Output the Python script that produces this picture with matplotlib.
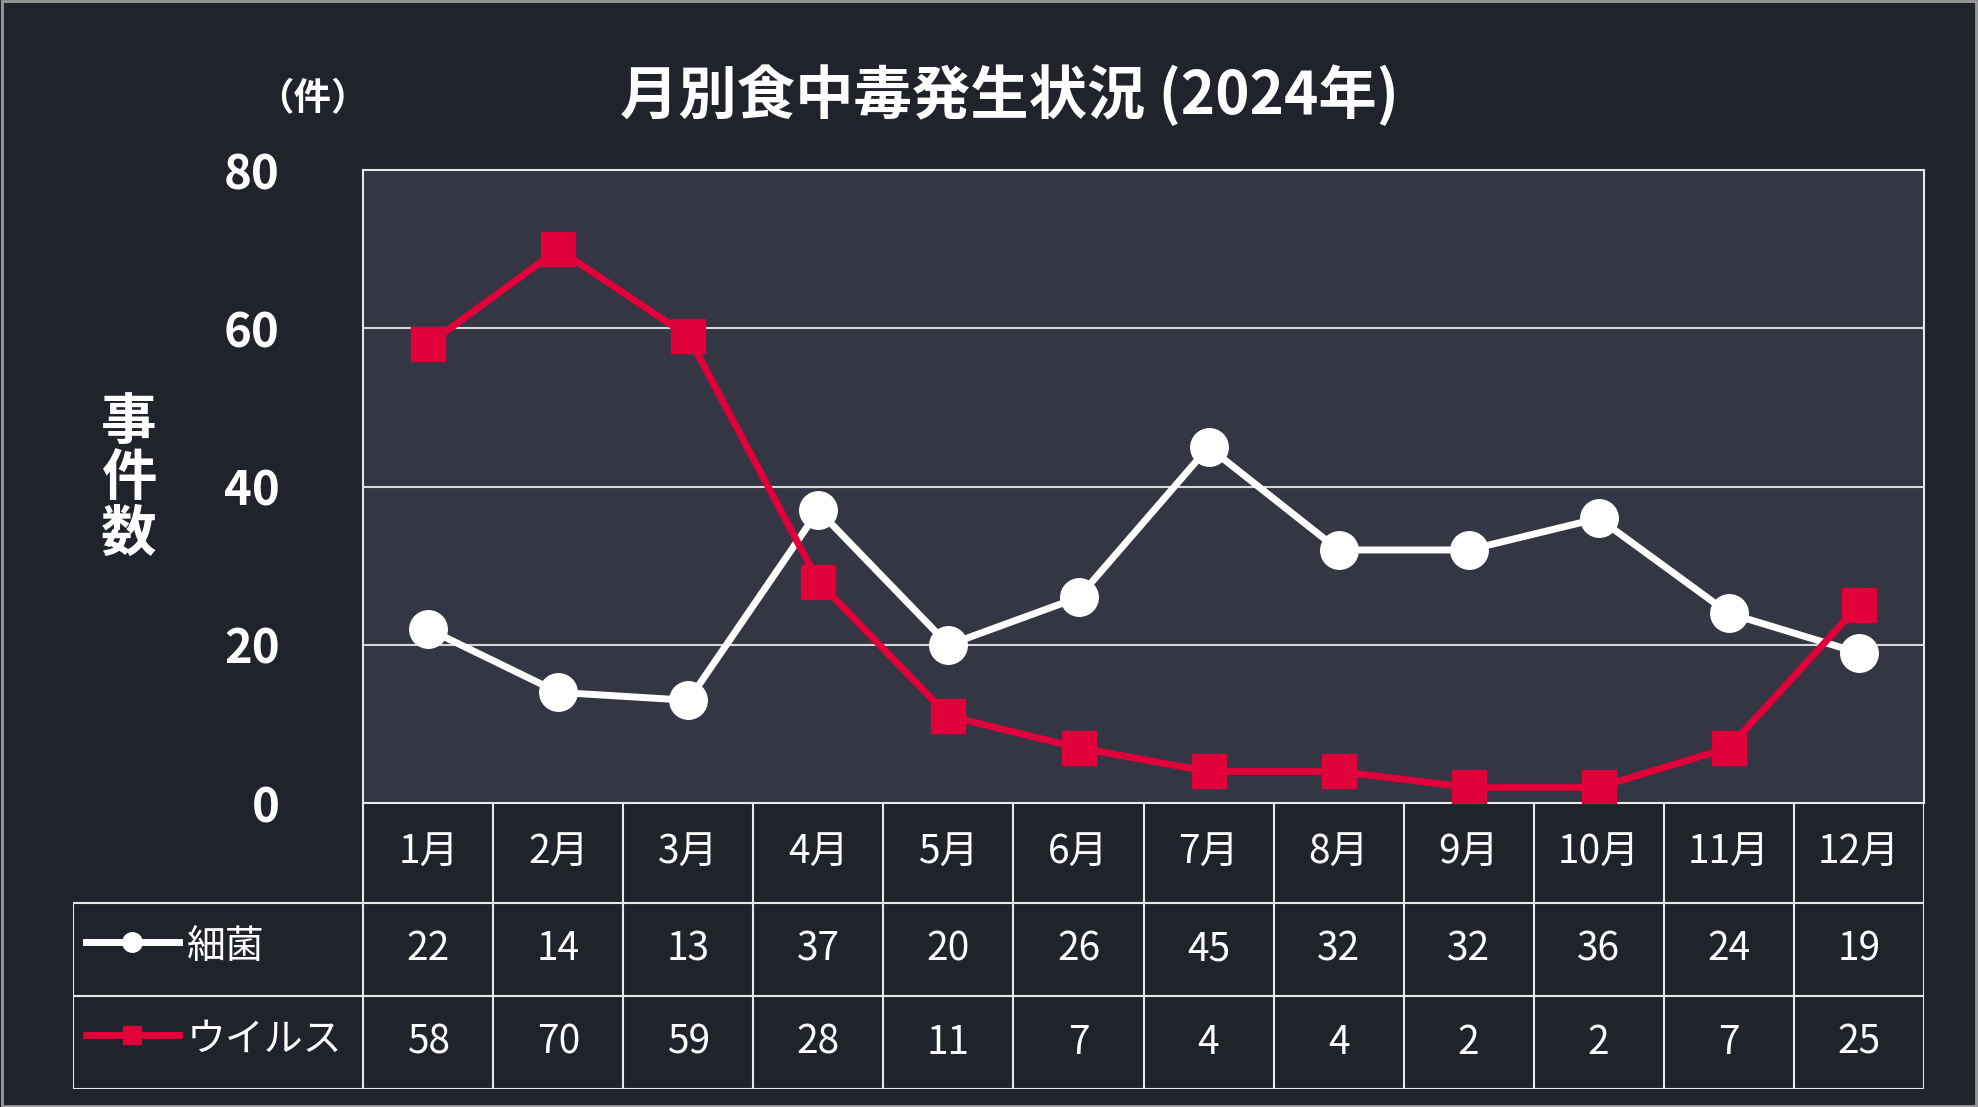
import matplotlib
matplotlib.use("Agg")
import matplotlib.pyplot as plt
from matplotlib.lines import Line2D

months = ["1月","2月","3月","4月","5月","6月","7月","8月","9月","10月","11月","12月"]
bacteria = [22,14,13,37,20,26,45,32,32,36,24,19]
virus = [58,70,59,28,11,7,4,4,2,2,7,25]
series_names = ["細菌","ウイルス"]
yticks = [0,20,40,60,80]

FONT = "Noto Sans CJK JP"
BG = "#20232c"; PLOT_BG = "#343643"; RED = "#e0003a"; WHITE = "white"
W, H = 1568, 878
fig = plt.figure(figsize=(19.78, 11.07), dpi=100, facecolor=BG)

def fx(x): return x / W
def fy(y): return 1 - y / H

L, R, T, B = 288, 1525, 135, 637
ax = fig.add_axes([fx(L), fy(B), fx(R) - fx(L), fy(T) - fy(B)], facecolor=PLOT_BG)
x = list(range(len(months)))
ax.set_xlim(-0.5, len(months) - 0.5)
ax.set_ylim(0, 80)
for v in yticks[1:-1]:
    ax.axhline(v, color="#d8d8d8", lw=1.5, zorder=1)
ax.plot(x, bacteria, color=WHITE, lw=5, marker="o", ms=27, zorder=3)
ax.plot(x, virus, color=RED, lw=5, marker="s", ms=25, zorder=4)
ax.set_xticks([])
ax.set_yticks(yticks)
ax.set_yticklabels([str(v) for v in yticks], fontfamily=FONT, fontweight="bold", fontsize=34, color=WHITE)
ax.tick_params(axis="y", length=0, pad=60)
for s in ax.spines.values():
    s.set_color("#e8e8e8"); s.set_linewidth(1.5)

fig.text(fx(800), fy(76), "月別食中毒発生状況 (2024年)", fontfamily=FONT, fontweight="bold",
         fontsize=42, color=WHITE, ha="center", va="center")
fig.text(fx(248), fy(78), "（件）", fontfamily=FONT, fontweight="bold", fontsize=27, color=WHITE,
         ha="center", va="center")
fig.text(fx(102), fy(380), "事\n件\n数", fontfamily=FONT, fontweight="bold", fontsize=40,
         color=WHITE, ha="center", va="center", linespacing=1.0)

# table
tx0, tx1, ty0, ty1 = 58, 1525, 637, 864
tab = fig.add_axes([fx(tx0), fy(ty1), fx(tx1) - fx(tx0), fy(ty0) - fy(ty1)], facecolor=BG)
tab.set_xlim(tx0, tx1); tab.set_ylim(ty1, ty0)
tab.axis("off")
cw = (R - L) / len(months)
rows = [637, 716, 790, 864]
lc = "#e8e8e8"; lw = 1.5
tab.plot([L, L], [rows[0], rows[-1]], color=lc, lw=lw)
tab.plot([R, R], [rows[0], rows[-1]], color=lc, lw=lw)
tab.plot([tx0, tx0], [rows[1], rows[-1]], color=lc, lw=lw)
for i in range(1, len(months)):
    tab.plot([L + i * cw] * 2, [rows[0], rows[-1]], color=lc, lw=lw)
for r in rows[1:]:
    tab.plot([tx0, R], [r, r], color=lc, lw=lw)
for i, m in enumerate(months):
    cx = L + (i + 0.5) * cw
    tab.text(cx, (rows[0] + rows[1]) / 2, m, fontfamily=FONT, fontsize=28, color=WHITE, ha="center", va="center")
    tab.text(cx, (rows[1] + rows[2]) / 2, str(bacteria[i]), fontfamily=FONT, fontsize=28, color=WHITE, ha="center", va="center")
    tab.text(cx, (rows[2] + rows[3]) / 2, str(virus[i]), fontfamily=FONT, fontsize=28, color=WHITE, ha="center", va="center")
for k, (name, col, mk, ms) in enumerate([(series_names[0], WHITE, "o", 14), (series_names[1], RED, "s", 13)]):
    cy = (rows[k + 1] + rows[k + 2]) / 2 - 6
    tab.add_line(Line2D([68, 142], [cy, cy], color=col, lw=5))
    tab.plot([105], [cy], marker=mk, ms=ms, color=col)
    tab.text(148, cy + 4, name, fontfamily=FONT, fontsize=28, color=WHITE, ha="left", va="center")

# outer border
fig.add_artist(plt.Rectangle((0.001, 0.001), 0.998, 0.998, transform=fig.transFigure,
                             fill=False, edgecolor="#9a9a9a", lw=2))

fig.savefig("out.png", dpi=100, facecolor=BG)
